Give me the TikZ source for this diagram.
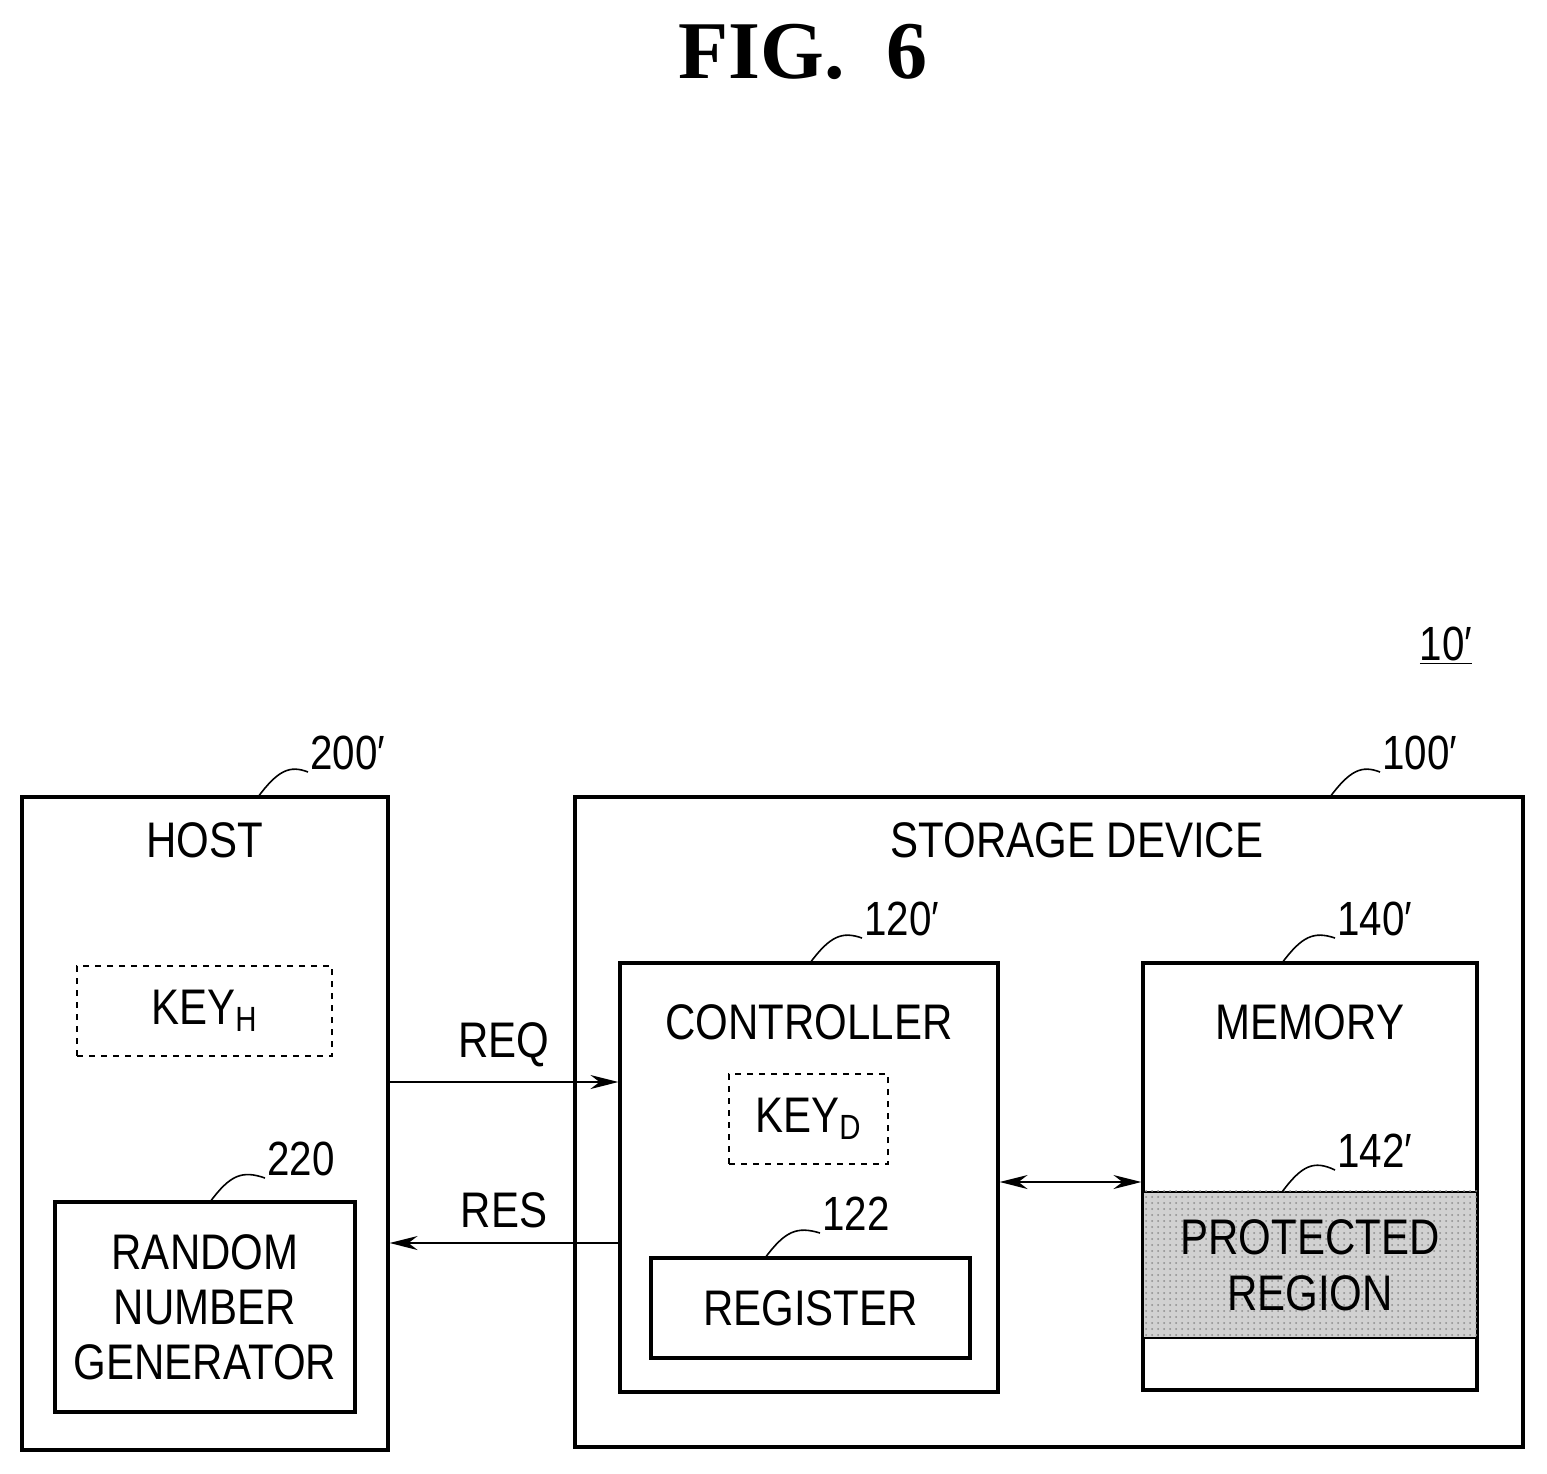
\documentclass[tikz,border=0pt]{standalone}
\usepackage{fontspec}
\setmainfont[FakeStretch=0.84]{Liberation Sans}
\newfontfamily\figfont{Liberation Serif}
\newcommand\pr{′}
\usetikzlibrary{fit,arrows.meta,patterns}
\tikzset{
  box/.style={draw, line width=1.6pt, inner sep=0pt},
  keybox/.style={draw, dashed, line width=0.6pt, inner sep=0pt},
  lbl/.style={font=\fontsize{25}{30}\selectfont, inner sep=1pt},
  ref/.style={font=\fontsize{24}{28}\selectfont, inner sep=1pt, anchor=south west},
  lead/.style={line width=0.8pt},
  sig/.style={line width=0.7pt, -{Stealth[length=14pt,width=7pt]}}
}
\begin{document}
\begin{tikzpicture}[x=0.5pt,y=-0.5pt]
\useasboundingbox (0,0) rectangle (1547,1473);
% title
\node[font=\figfont\bfseries\fontsize{41}{44}\selectfont] (fig) at (803,52) {FIG.~~6};
\node[font=\fontsize{24}{28}\selectfont, inner sep=1pt] (sys) at (1446,646) {\underline{10\pr}};
% host
\node[box, fit={(22,797)(388,1450)}] (host) {};
\node[lbl] (hostt) at (205,840) {HOST};
\node[keybox, fit={(77,966)(332,1056)}] (keyh) {};
\node[lbl] at (keyh) {KEY\textsubscript{H}};
\node[box, fit={(55,1202)(355,1412)}] (rng) {};
\node[lbl, align=center, font=\fontsize{25}{27.5}\selectfont] at (rng) {RANDOM\\NUMBER\\GENERATOR};
% storage device
\node[box, fit={(575,797)(1523,1447)}] (dev) {};
\node[lbl] (devt) at (1077,840) {STORAGE DEVICE};
\node[box, fit={(620,963)(998,1392)}] (ctrl) {};
\node[lbl] at (809,1022) {CONTROLLER};
\node[keybox, fit={(729,1074)(888,1164)}] (keyd) {};
\node[lbl] at (keyd) {KEY\textsubscript{D}};
\node[box, fit={(651,1258)(970,1358)}] (reg) {};
\node[lbl] at (reg) {REGISTER};
\node[box, fit={(1143,963)(1477,1390)}] (mem) {};
\node[lbl] at (1310,1022) {MEMORY};
\node[draw, line width=1.2pt, inner sep=0pt, fill=black!18,
      fit={(1143,1192)(1477,1338)}] (prot) {};
\fill[pattern=dots, pattern color=black!45] (prot.north west) rectangle (prot.south east);
\node[lbl, align=center, font=\fontsize{25}{28}\selectfont] at (prot) {PROTECTED\\REGION};
% reference labels
\node[ref] (r200) at (308,772) {200\pr};
\node[ref] (r100) at (1380,772) {100\pr};
\node[ref] (r120) at (862,938) {120\pr};
\node[ref] (r140) at (1335,938) {140\pr};
\node[ref] (r142) at (1335,1170) {142\pr};
\node[ref] (r220) at (265,1178) {220};
\node[ref] (r122) at (820,1233) {122};
\draw[lead] (258,797) .. controls (278,770) and (290,765) .. (r200.south west);
\draw[lead] (1330,797) .. controls (1350,770) and (1362,765) .. (r100.south west);
\draw[lead] (810,963) .. controls (830,936) and (842,931) .. (r120.south west);
\draw[lead] (1282,963) .. controls (1302,936) and (1314,931) .. (r140.south west);
\draw[lead] (1282,1192) .. controls (1302,1165) and (1314,1160) .. (r142.south west);
\draw[lead] (210,1202) .. controls (230,1175) and (242,1170) .. (r220.south west);
\draw[lead] (765,1258) .. controls (785,1231) and (797,1226) .. (r122.south west);
% signals
\draw[sig] (host.east |- 0,1082) -- (ctrl.west |- 0,1082) node[lbl, midway, above=6pt] {REQ};
\draw[sig] (ctrl.west |- 0,1243) -- (host.east |- 0,1243) node[lbl, midway, above=6pt] {RES};
\draw[sig, {Stealth[length=14pt,width=7pt]}-{Stealth[length=14pt,width=7pt]}] (ctrl.east |- 0,1182) -- (mem.west |- 0,1182);
\end{tikzpicture}
\end{document}
